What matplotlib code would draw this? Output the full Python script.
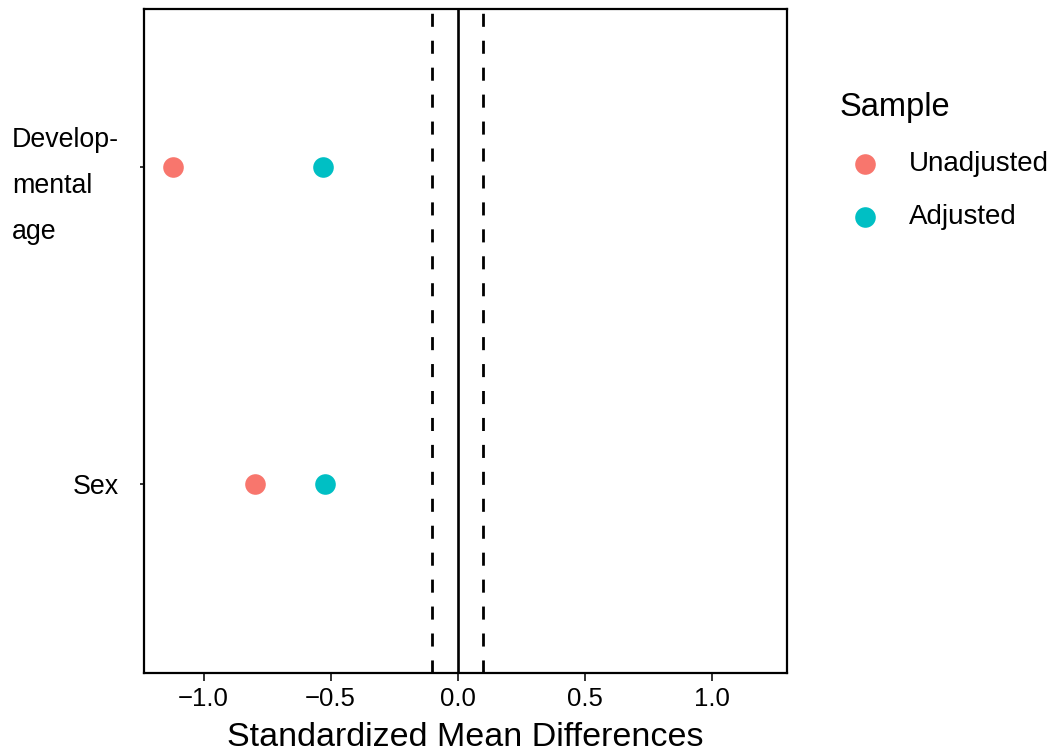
import matplotlib
matplotlib.use("Agg")
import matplotlib.pyplot as plt
import matplotlib.transforms as mtransforms

plt.rcParams['font.family'] = ['Liberation Sans', 'DejaVu Sans']

covariates = ["Sex", "Develop-\nmental\nage"]
unadjusted = [-0.796, -1.122]
adjusted = [-0.522, -0.532]
samples = ["Unadjusted", "Adjusted"]
colors = ["#F8766D", "#00BFC4"]
threshold = 0.1

fig = plt.figure(figsize=(10.56, 7.53), dpi=100)
ax = fig.add_axes([0.1364, 0.1058, 0.6084, 0.8818])

ypos = list(range(1, len(covariates) + 1))

# reference lines
ax.axvline(0, color="black", lw=1.9, zorder=1)
ax.axvline(-threshold, color="black", lw=2.0, ls=(0, (4.7, 5.0)), zorder=1)
ax.axvline(threshold, color="black", lw=2.0, ls=(0, (4.7, 5.0)), zorder=1)

for vals, lab, col in zip([unadjusted, adjusted], samples, colors):
    ax.scatter(vals, ypos, s=220, color=col, label=lab, zorder=3, linewidths=0)

ax.set_xlim(-1.234, 1.293)
ax.set_ylim(0.402, 2.497)
ax.set_xticks([-1.0, -0.5, 0.0, 0.5, 1.0])
ax.set_xticklabels(["\u22121.0", "\u22120.5", "0.0", "0.5", "1.0"])
ax.set_yticks(ypos)
ax.set_yticklabels(covariates)

ax.tick_params(axis="x", labelsize=18.5, length=6, width=1.4, color="#333333", pad=4)
ax.tick_params(axis="y", labelsize=19.3, length=3, width=1.4, color="#333333", pad=15)
ax.set_xlabel("Standardized Mean Differences", fontsize=24.5, labelpad=8)

shift = mtransforms.ScaledTranslation(0, -6 / 100, fig.dpi_scale_trans)
for t in ax.get_yticklabels():
    t.set_multialignment("left")
    if "\n" in t.get_text():
        t.set_linespacing(2.0)
        t.set_transform(t.get_transform() + shift)

for sp in ax.spines.values():
    sp.set_linewidth(1.6)

leg = ax.legend(title="Sample", loc="upper left", bbox_to_anchor=(0.777, 0.903),
                bbox_transform=fig.transFigure, frameon=False, fontsize=20,
                title_fontsize=23.5, handletextpad=0.68, labelspacing=0.97,
                borderpad=0.2, handlelength=1.8)
leg._legend_box.align = "left"
leg._legend_box.sep = 20

fig.savefig("out.png", dpi=100)
